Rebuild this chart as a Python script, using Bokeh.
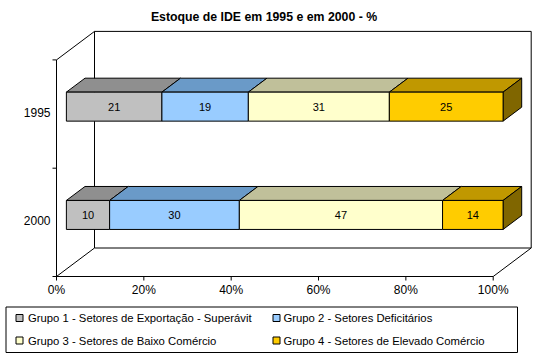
from bokeh.plotting import figure
from bokeh.models import Range1d
from bokeh.core.properties import value
from bokeh.embed import file_html
from bokeh.resources import INLINE

# ---------------- data ----------------
title_text = "Estoque de IDE em 1995 e em 2000 - %"
categories = ["2000", "1995"]          # bottom to top
series_names = [
    "Grupo 1 - Setores de Exportação - Superávit",
    "Grupo 2 - Setores Deficitários",
    "Grupo 3 - Setores de Baixo Comércio",
    "Grupo 4 - Setores de Elevado Comércio",
]
values_2000 = [10, 30, 47, 14]
values_1995 = [21, 19, 31, 25]
x_ticks = [0, 20, 40, 60, 80, 100]
x_tick_labels = ["0%", "20%", "40%", "60%", "80%", "100%"]

front_colors = ["#C0C0C0", "#99CCFF", "#FFFFCC", "#FFCC00"]
top_colors = ["#8F8F8F", "#6A9AC8", "#C0C09A", "#C09800"]
side_colors = ["#606060", "#4C6680", "#80806A", "#806600"]

# ---------------- geometry (styling) ----------------
W, H = 550, 357
X0PX, PXX = 56.0, 4.367      # pixel of 0 %, pixels per percent
Y0PX, PXY = 276.0, 108.3     # pixel of floor, pixels per category unit
DXU = 38.0 / PXX             # full depth offset in x units
DYU = 28.5 / PXY             # full depth offset in y units
D0, D1 = 0.26, 0.75          # bar depth span
HALF = 14.5 / PXY            # half bar height
FONT = "Liberation Sans"


def fx(px):
    return (px - X0PX) / PXX


def fy(py):
    return (Y0PX - py) / PXY


p = figure(width=W, height=H, output_backend="svg", toolbar_location=None,
           x_range=Range1d(fx(0), fx(W)), y_range=Range1d(fy(H), fy(0)),
           min_border=0)
p.axis.visible = False
p.grid.visible = False
p.outline_line_color = None
p.background_fill_color = "white"
p.border_fill_color = "white"

ncat = len(categories)
# ---- walls ----
p.quad(left=[0 + DXU], right=[100 + DXU], bottom=[0 + DYU], top=[ncat + DYU],
       fill_color="white", line_color="black", line_width=1)
p.line([0, 0], [0, ncat], line_color="black", line_width=1)
p.line([0, DXU], [ncat, ncat + DYU], line_color="black", line_width=1)
p.line([0, DXU], [0, DYU], line_color="black", line_width=1)
p.line([0, 100], [0, 0], line_color="black", line_width=1)
p.line([100, 100 + DXU], [0, DYU], line_color="black", line_width=1)

# ticks
tick_len_x = 4 / PXY
p.segment(x0=x_ticks, y0=[0] * len(x_ticks), x1=x_ticks,
          y1=[-tick_len_x] * len(x_ticks), line_color="black", line_width=1)
ycat_edges = list(range(ncat + 1))
p.segment(x0=[0] * len(ycat_edges), y0=ycat_edges,
          x1=[-4 / PXX] * len(ycat_edges), y1=ycat_edges,
          line_color="black", line_width=1)

p.text(x=x_ticks, y=[fy(289.5)] * len(x_ticks), text=x_tick_labels,
       text_align="center", text_baseline="middle",
       text_font=value(FONT), text_font_size="12px", text_color="black")

# category labels
cat_centers = [i + 0.5 for i in range(ncat)]
p.text(x=[-6 / PXX] * ncat, y=[c + 1.5 / PXY for c in cat_centers], text=categories,
       text_align="right", text_baseline="middle",
       text_font=value(FONT), text_font_size="12px", text_color="black")

# ---- bars ----
all_values = [values_2000, values_1995]
for ci, vals in enumerate(all_values):
    total = float(sum(vals))
    pct = [v / total * 100 for v in vals]
    starts, ends = [], []
    acc = 0.0
    for v in pct:
        starts.append(acc)
        acc += v
        ends.append(acc)
    yc = cat_centers[ci]
    ybot, ytop = yc - HALF, yc + HALF
    # top faces
    txs, tys = [], []
    for s, e in zip(starts, ends):
        txs.append([s + D0 * DXU, e + D0 * DXU, e + D1 * DXU, s + D1 * DXU])
        tys.append([ytop + D0 * DYU, ytop + D0 * DYU, ytop + D1 * DYU, ytop + D1 * DYU])
    p.patches(xs=txs, ys=tys, fill_color=top_colors, line_color="black", line_width=1)
    # side face of the last segment
    e = ends[-1]
    p.patch(x=[e + D0 * DXU, e + D0 * DXU, e + D1 * DXU, e + D1 * DXU],
            y=[ybot + D0 * DYU, ytop + D0 * DYU, ytop + D1 * DYU, ybot + D1 * DYU],
            fill_color=side_colors[-1], line_color="black", line_width=1)
    # front faces
    p.quad(left=[s + D0 * DXU for s in starts], right=[e2 + D0 * DXU for e2 in ends],
           bottom=[ybot + D0 * DYU] * len(vals), top=[ytop + D0 * DYU] * len(vals),
           fill_color=front_colors, line_color="black", line_width=1)
    # value labels
    p.text(x=[(s + e2) / 2 + D0 * DXU for s, e2 in zip(starts, ends)],
           y=[yc + D0 * DYU] * len(vals), text=[str(v) for v in vals],
           text_align="center", text_baseline="middle",
           text_font=value(FONT), text_font_size="11px", text_color="black")

# ---- title ----
p.text(x=[fx(263.5)], y=[fy(16.5)], text=[title_text], text_align="center",
       text_baseline="middle", text_font=value(FONT), text_font_size="12.3px",
       text_font_style="bold", text_color="black")

# ---- legend ----
p.quad(left=[fx(5.5)], right=[fx(517)], bottom=[fy(352)], top=[fy(306.5)],
       fill_color="white", line_color="black", line_width=1)
leg_sq_x = [fx(19), fx(276), fx(19), fx(276)]
leg_txt_x = [fx(27.5), fx(283), fx(27.5), fx(283)]
leg_y = [fy(317.5), fy(317.5), fy(340), fy(340)]
p.rect(x=leg_sq_x, y=leg_y, width=7, height=7, width_units="screen",
       height_units="screen", fill_color=front_colors, line_color="black", line_width=1)
p.text(x=leg_txt_x, y=leg_y, text=series_names, text_align="left",
       text_baseline="middle", text_font=value(FONT), text_font_size="11.3px",
       text_color="black")

open("out.html", "w").write(file_html(p, INLINE))
